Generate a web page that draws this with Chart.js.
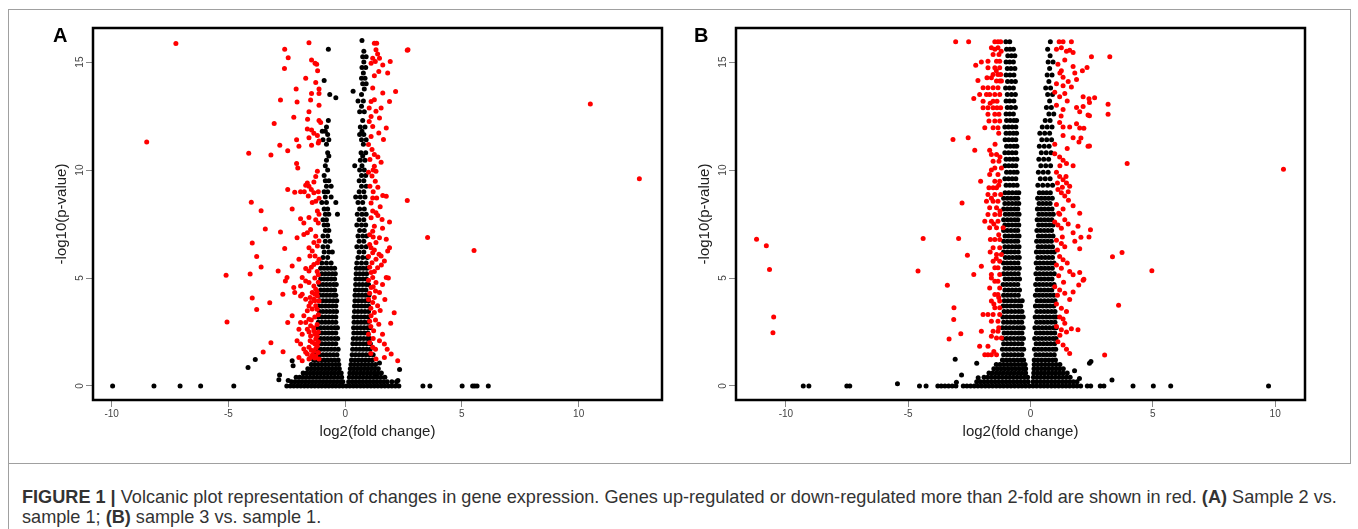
<!DOCTYPE html>
<html>
<head>
<meta charset="utf-8">
<script src="https://cdn.jsdelivr.net/npm/chart.js@4.4.1/dist/chart.umd.min.js"></script>
<style>
body{margin:0;background:#fff;width:1358px;height:529px;overflow:hidden;position:relative;font-family:"Liberation Sans",Arial,sans-serif}
#frame{position:absolute;left:8px;top:9px;width:1341px;height:453px;border:1px solid #a0a0a0}
#capline{position:absolute;left:8px;top:463px;width:1px;height:66px;background:#a0a0a0}
.wrap{position:absolute;top:0;width:680px;height:470px}
.letter{position:absolute;top:25px;font-weight:bold;font-size:20px;line-height:20px;color:#000}
.cap{position:absolute;left:22px;white-space:nowrap;font-size:15px;line-height:18px;color:#333;display:inline-block}
</style>
</head>
<body>
<div id="frame"></div>
<div id="capline"></div>
<div class="wrap" style="left:0"><canvas id="chartA" width="680" height="470"></canvas></div>
<div class="wrap" style="left:643px"><canvas id="chartB" width="680" height="470"></canvas></div>
<div class="letter" style="left:53px">A</div>
<div class="letter" style="left:694px">B</div>
<div class="cap" id="cap1" style="top:488px"><b>FIGURE 1 |</b> Volcanic plot representation of changes in gene expression. Genes up-regulated or down-regulated more than 2-fold are shown in red. <b>(A)</b> Sample 2 vs.</div>
<div class="cap" id="cap2" style="top:508px">sample 1; <b>(B)</b> sample 3 vs. sample 1.</div>
<script>
/* ---------- DATA ---------- */
const xTicks = [-10, -5, 0, 5, 10];
const yTicks = [0, 5, 10, 15];

// panel A: red = more than 2-fold, [log2FC, -log10 p]
const redA = [
[-7.25,15.86],[-8.5,11.3],[10.5,13.06],[12.6,9.6],[5.52,6.27],[3.53,6.88],[2.66,8.59],[2.66,15.55],[2.1,3.39],
[-5.1,5.13],[-5.06,2.96],[-4.13,10.78],[-4.02,8.51],[-3.6,8.11],[-3.42,7.27],[-3.98,6.62],[-3.79,6.0],[-3.6,5.51],
[-4.07,5.19],[-3.98,4.08],[-3.79,3.54],[-3.23,3.85],[-3.18,2.0],[-3.51,1.57],[-3.04,12.16],[-3.18,10.7],
[-1.55,15.9],[-2.59,15.6],[-2.44,15.2],[-2.6,14.7],[-1.44,15.1],[-1.29,14.95],[-1.22,14.9],[-1.18,14.6],[-1.69,14.25],
[-1.26,14.05],[-1.12,13.75],[-1.12,13.55],[-2.1,13.75],[-1.44,13.55],[-2.77,13.25],[-2.06,13.15],[-1.48,13.25],[-1.12,13.0],
[-1.55,12.7],[-2.2,12.45],[-1.61,12.35],[-1.12,12.3],[-1.05,12.2],[-1.62,11.9],[-1.44,11.85],[-1.34,11.7],[-1.19,11.6],
[-1.55,11.5],[-1.44,11.15],[-1.15,11.25],[-1.12,11.35],[-2.08,11.4],[-2.8,11.15],[-1.98,11.1],[-2.46,10.9],[-2.08,10.3],
[-2.03,10.1],[-1.26,9.7],[-1.19,9.95],[-1.34,9.45],[-1.62,9.4],[-1.55,9.25],[-1.69,9.3],[-1.45,9.1],[-1.34,8.95],[-1.75,9.0],
[-2.46,9.1],[-2.16,8.97],[-1.91,9.0],[-1.15,9.0],[-1.58,8.8],[-1.41,8.5],[-1.26,8.55],[-1.12,8.7],[-2.27,8.2],[-1.19,8.1],
[-1.12,7.95],[-1.26,7.7],[-1.15,7.55],[-1.91,7.75],[-1.77,7.55],[-1.55,7.8],[-2.77,7.13],[-1.48,7.25],[-1.62,7.1],[-1.77,7.02],
[-2.06,6.87],[-1.26,6.94],[-1.34,6.64],[-1.12,6.71],[-1.19,6.48],[-1.55,6.4],[-1.41,6.25],[-1.51,6.02],[-2.59,6.37],[-1.29,6.02],
[-1.12,5.87],[-1.19,5.71],[-1.34,5.63],[-1.98,5.87],[-2.27,5.56],[-1.69,5.44],[-1.55,5.33],[-2.87,5.33],[-2.49,5.02],[-2.56,4.86],
[-1.84,5.02],[-1.69,4.86],[-1.55,4.79],[-1.91,4.63],[-2.2,4.56],[-2.16,4.33],[-1.34,4.63],[-1.26,4.48],[-1.41,4.33],[-1.19,4.17],
[-1.34,4.02],[-1.48,3.87],[-1.26,3.71],[-1.41,3.56],[-1.12,3.94],[-2.67,4.25],[-1.84,4.25],[-1.91,4.17],[-1.69,4.02],
[-1.62,3.48],[-1.77,3.25],[-1.55,3.09],[-1.69,2.94],[-1.48,2.79],[-1.62,2.63],[-1.34,2.56],[-1.48,2.32],[-1.26,2.17],[-1.41,2.02],
[-1.19,1.86],[-1.55,1.79],[-1.34,1.63],[-1.69,1.56],[-2.27,3.25],[-2.46,2.94],[-1.91,2.94],[-1.98,2.63],[-1.84,2.4],[-2.06,2.1],
[-1.91,1.94],[-2.66,1.58],[-1.77,1.71],[-1.62,1.48],[-1.48,1.32],[-1.26,1.4],[-1.12,1.25],[-1.98,1.32],[-1.84,1.17],
[-1.15,3.3],[-1.3,3.2],[-1.45,3.05],[-1.2,2.85],[-1.35,2.7],[-1.15,2.5],[-1.3,2.4],[-1.55,2.5],[-1.2,2.3],[-1.15,2.05],[-1.3,1.95],
[-1.5,2.1],[-1.25,1.75],[-1.45,1.65],[-1.15,1.55],[-1.4,1.45],[-1.3,1.3],[-1.55,1.25],[-1.2,3.55],[-1.55,3.7],[-1.3,3.95],[-1.2,4.35],
[-1.5,4.1],[-1.15,4.8],[-1.3,5.0],[-1.2,5.3],[-1.45,5.5],[-1.15,5.15],[-1.3,4.25],
[1.25,15.87],[1.35,15.87],[2.69,15.57],[1.32,15.57],[1.39,15.38],[1.18,15.18],[1.29,15.03],[1.11,14.95],[1.47,15.18],[1.61,14.87],
[1.93,15.03],[1.44,14.56],[1.25,14.37],[1.82,14.49],[1.18,13.8],[1.61,13.57],[2.16,13.64],[1.9,13.18],[1.11,13.18],[1.25,13.26],
[1.03,12.87],[1.32,12.72],[1.54,12.87],[1.47,12.41],[1.11,12.48],[1.03,12.25],[1.18,12.02],[1.76,11.95],[1.44,11.72],[1.64,11.41],
[1.11,11.56],[1.0,11.18],[1.15,10.95],[1.25,10.72],[1.06,10.49],[1.54,10.36],[1.25,10.18],[1.32,9.95],[1.15,9.72],[1.29,9.48],
[1.06,9.25],[1.18,8.71],[1.35,8.71],[1.61,8.82],[1.76,8.79],[1.11,8.48],[1.18,8.1],[1.32,8.02],[1.11,7.79],[1.58,7.71],[1.25,7.4],
[1.18,7.17],[1.47,6.87],[1.76,6.79],[1.32,6.64],[1.11,6.4],[1.18,6.17],[1.82,6.25],[1.54,6.02],[1.32,5.87],[1.68,5.79],[1.15,5.71],
[1.39,5.48],[1.11,5.25],[1.18,5.02],[1.76,5.02],[1.32,4.79],[1.11,4.56],[1.47,4.33],[1.25,4.1],[1.18,3.87],[1.39,3.71],[1.11,3.25],
[1.44,2.86],[1.22,2.56],[1.47,2.09],[1.68,1.94],[1.18,1.79],[1.97,1.48],[1.68,1.32],[2.25,1.17],[1.32,1.25],
[1.05,7.0],[1.2,6.9],[1.05,6.55],[1.25,6.3],[1.0,6.0],[1.05,5.5],[1.25,5.3],[1.0,4.9],[1.2,4.6],[1.05,4.3],[1.3,4.4],[1.0,4.0],
[1.1,3.6],[1.25,3.4],[1.05,3.0],[1.3,3.05],[1.1,2.75],[1.0,2.4],[1.2,2.2],[1.05,2.0],[1.3,1.7],[1.1,1.5],[1.5,3.5],[1.6,4.7],
[1.55,5.6],[1.45,6.1],[1.6,7.3],[1.4,7.9],[1.5,8.3],[1.9,7.6],[1.9,6.4],[1.85,5.0],[1.7,4.0],[1.95,2.9],[1.6,2.4],[1.8,1.7],
[1.2,10.0],[1.4,10.6],[1.0,9.9],[1.4,9.2],[1.2,9.0]
];

// panel A: black = below the 2-fold cut, rows of [-log10 p, log2FC, log2FC, ...]
const blackRowsA = [
[0,-9.96,-8.19,-7.07,-6.19,-4.77,-2.5,-2.35,-2.2,-2.05,-1.9,-1.75,-1.6,-1.45,-1.3,-1.15,-1.0,-0.85,-0.7,-0.55,-0.4,-0.25,-0.1,0.05,0.2,0.35,0.5,0.65,0.8,0.95,1.1,1.25,1.4,1.55,1.7,1.85,2.0,2.15,2.3,3.33,3.63,5.01,5.46,5.55,5.65,6.13],
[0.2,-2.3,-2.15,-2.0,-1.85,-1.7,-1.55,-1.4,-1.25,-1.1,-0.95,-0.8,-0.65,-0.5,-0.35,-0.2,-0.1,0.15,0.3,0.45,0.6,0.75,0.9,1.05,1.2,1.35,1.5,1.65,1.8,2.0,2.2],
[0.4,-2.1,-1.95,-1.8,-1.65,-1.5,-1.35,-1.2,-1.05,-0.9,-0.75,-0.6,-0.45,-0.3,-0.15,0.18,0.33,0.48,0.63,0.78,0.93,1.08,1.23,1.38,1.53,1.7],
[0.6,-1.8,-1.65,-1.5,-1.35,-1.2,-1.05,-0.9,-0.75,-0.6,-0.45,-0.3,-0.17,0.2,0.35,0.5,0.65,0.8,0.95,1.1,1.25,1.4,1.55],
[0.8,-1.6,-1.45,-1.3,-1.15,-1.0,-0.85,-0.7,-0.55,-0.4,-0.25,0.22,0.37,0.52,0.67,0.82,0.97,1.12,1.27,1.42],
[1.0,-1.45,-1.3,-1.15,-1.0,-0.85,-0.7,-0.55,-0.4,-0.27,0.25,0.4,0.55,0.7,0.85,1.0,1.15,1.3],
[1.2,-1.35,-1.2,-1.05,-0.9,-0.75,-0.6,-0.45,-0.3,0.27,0.42,0.57,0.72,0.87,1.02,1.17],
[1.45,-1.25,-1.1,-0.95,-0.8,-0.65,-0.5,-0.35,0.3,0.45,0.6,0.75,0.9,1.05,1.2],
[1.7,-1.2,-1.05,-0.9,-0.75,-0.6,-0.45,-0.3,0.32,0.47,0.62,0.77,0.92,1.07],
[1.95,-1.15,-1.0,-0.85,-0.7,-0.55,-0.4,0.33,0.48,0.63,0.78,0.93,1.08],
[2.2,-1.2,-1.05,-0.9,-0.75,-0.6,-0.45,-0.32,0.35,0.5,0.65,0.8,0.95,1.05],
[2.45,-1.15,-1.0,-0.85,-0.7,-0.55,-0.4,0.37,0.52,0.67,0.82,0.97],
[2.7,-1.2,-1.05,-0.9,-0.75,-0.6,-0.45,-0.33,0.36,0.51,0.66,0.81,0.96,1.06],
[2.95,-1.15,-1.0,-0.85,-0.7,-0.55,-0.4,0.38,0.53,0.68,0.83,0.98],
[3.2,-1.15,-1.0,-0.85,-0.7,-0.55,-0.4,0.38,0.53,0.68,0.83,0.98],
[3.45,-1.1,-0.95,-0.8,-0.65,-0.5,-0.37,0.4,0.55,0.7,0.85,1.0],
[3.7,-1.15,-1.0,-0.85,-0.7,-0.55,-0.4,0.4,0.55,0.7,0.85,1.0],
[3.95,-1.1,-0.95,-0.8,-0.65,-0.5,-0.36,0.42,0.57,0.72,0.87,1.0],
[4.2,-1.1,-0.95,-0.8,-0.65,-0.5,-0.4,0.42,0.57,0.72,0.87,1.02],
[4.45,-1.05,-0.9,-0.75,-0.6,-0.45,0.44,0.59,0.74,0.89],
[4.7,-1.1,-0.95,-0.8,-0.65,-0.5,-0.38,0.45,0.6,0.75,0.9,1.0],
[4.95,-1.05,-0.9,-0.75,-0.6,-0.45,0.46,0.61,0.76,0.91],
[5.2,-1.0,-0.85,-0.7,-0.55,-0.42,0.47,0.62,0.77,0.92],
[5.45,-1.05,-0.9,-0.75,-0.6,-0.45,0.48,0.63,0.78,0.93],
[5.7,-1.0,-0.8,-0.6,0.5,0.7,0.9],
[5.95,-0.95,-0.75,0.55,0.75,0.95],
[6.2,-0.9,-0.7,-0.55,0.6,0.8],
[6.45,-0.95,-0.75,0.5,0.7,0.9],
[6.7,-0.85,-0.65,0.6,0.8],
[6.95,-0.95,-0.75,0.55,0.75,0.92],
[7.2,-0.85,-0.7,0.62,0.82],
[7.45,-0.9,-0.75,0.5,0.7,0.88],
[7.7,-0.95,-0.8,0.6,0.8],
[7.95,-0.85,-0.7,-0.33,0.52,0.72,0.9],
[8.2,-0.9,-0.75,0.62,0.82],
[8.5,-1.0,-0.8,-0.4,0.55,0.75],
[8.75,-0.85,-0.6,0.45,0.65,0.85],
[9.0,-0.9,-0.75,0.6,0.8],
[9.25,-0.8,-0.6,0.7,0.9],
[9.5,-0.85,-0.7,0.6,0.8],
[9.75,-0.9,0.7,0.88],
[10.0,-0.75,0.62,0.82],
[10.2,-0.85,0.41,0.72],
[10.45,-0.8,0.65,0.85],
[10.65,-0.7,0.75],
[10.8,-0.75,0.68,0.88],
[11.2,-0.8,0.78],
[11.4,-0.95,-0.7,0.7,0.9],
[11.65,-0.75,0.62,0.8],
[11.8,-0.98,-0.85,0.72],
[12.0,-0.8,0.65,0.85],
[12.3,-0.72,0.75],
[12.7,0.62,0.82],
[12.95,0.7],
[13.2,0.55,0.78],
[13.35,-0.4],
[13.5,-0.66,0.7],
[13.65,0.34],
[13.75,0.82],
[14.0,0.75,0.9],
[14.15,-0.9],
[14.25,0.7,0.85],
[14.5,0.78],
[14.75,0.72,0.88],
[15.0,0.8],
[15.25,0.75,0.9],
[15.5,0.8],
[15.6,-0.72],
[16.0,0.72]
];
const blackA = [
[-4.16,0.85],[-3.85,1.23],[-2.81,0.51],[-2.84,0.29],[-2.44,0.25],[-2.27,1.17],[-2.23,0.94],
[2.33,0.76],[2.26,0.25],[1.47,1.06],[1.33,0.52]
];

// panel B
const redB = [
[-11.2,6.8],[-10.8,6.49],[-10.67,5.4],[-10.5,3.2],[-10.53,2.47],[10.34,10.04],[4.96,5.34],[3.95,10.3],
[3.74,6.18],[3.35,5.99],[3.6,3.74],[3.03,1.44],[3.24,15.25],[3.17,13.05],[3.17,12.58],[2.49,15.25],
[2.41,13.13],[2.41,12.51],[2.41,11.12],[2.15,12.94],[2.45,7.23],[2.18,11.94],[2.06,11.48],[2.18,4.94],[1.97,4.68],[2.06,6.89],
[-3.06,15.94],[-2.53,15.94],[-1.46,15.94],[-1.33,15.94],[-1.22,15.94],[-1.6,15.66],[-1.33,15.66],[-1.46,15.6],
[-1.53,15.35],[-1.29,15.35],[-2.01,15.0],[-2.24,14.86],[-1.74,15.04],[-1.39,15.04],[-1.26,15.04],
[-1.74,14.74],[-1.46,14.74],[-1.26,14.74],[-1.53,14.43],[-1.33,14.43],[-1.22,14.43],[-2.15,14.15],[-1.78,14.28],[-1.6,14.28],
[-1.39,14.12],[-1.26,14.12],[-1.19,14.12],[-1.94,13.81],[-1.74,13.81],[-1.53,13.81],[-1.33,13.81],
[-2.08,13.5],[-1.8,13.5],[-1.67,13.5],[-1.46,13.5],[-1.26,13.5],[-2.32,13.31],[-1.94,13.19],[-1.53,13.19],[-1.37,13.19],
[-1.94,12.89],[-1.74,12.89],[-1.53,12.89],[-1.37,12.89],[-1.22,12.89],[-1.74,12.58],[-1.46,12.58],[-1.29,12.58],
[-1.7,12.27],[-1.46,12.27],[-1.26,12.27],[-1.87,11.96],[-1.53,11.96],[-1.33,11.96],[-2.55,11.5],[-3.17,11.42],
[-2.28,10.92],[-1.67,10.92],[-1.6,10.72],[-1.39,10.72],[-1.53,10.41],[-1.29,10.41],[-1.46,10.1],[-1.19,10.1],
[-1.67,9.79],[-1.33,9.79],[-2.04,9.48],[-1.46,9.48],[-1.26,9.48],[-1.7,9.18],[-1.39,9.18],[-1.53,9.18],
[-1.74,8.87],[-1.46,8.87],[-1.22,8.87],[-1.8,8.56],[-1.53,8.56],[-1.33,8.56],[-2.8,8.48],[-1.67,8.25],[-1.39,8.25],
[-1.74,7.94],[-1.46,7.94],[-1.26,7.94],[-1.87,7.63],[-1.6,7.63],[-1.33,7.63],[-1.67,7.33],[-1.39,7.33],[-1.12,7.33],
[-4.39,6.83],[-2.94,6.83],[-1.64,6.78],[-1.46,6.78],[-1.26,6.78],[-1.53,6.4],[-1.26,6.4],[-2.58,6.06],[-1.39,6.09],[-1.19,6.09],
[-1.53,5.78],[-1.26,5.78],[-2.01,5.55],[-1.46,5.47],[-1.33,5.47],[-4.6,5.32],[-2.32,5.16],[-1.6,5.16],[-1.26,5.16],
[-1.46,4.85],[-1.33,4.85],[-3.4,4.66],[-1.67,4.54],[-1.26,4.54],[-1.46,4.24],[-1.33,4.24],[-1.6,3.93],[-1.26,3.93],
[-3.13,3.62],[-1.46,3.62],[-1.26,3.62],[-1.94,3.31],[-1.74,3.31],[-1.53,3.31],[-1.26,3.31],[-3.14,3.08],[-1.6,3.0],[-1.33,3.0],
[-2.01,2.53],[-1.53,2.53],[-1.33,2.53],[-2.85,2.42],[-3.33,2.17],[-1.39,2.22],[-1.19,2.22],[-2.08,1.84],[-1.74,1.84],
[-1.87,1.45],[-1.74,1.45],[-1.6,1.45],[-1.39,1.45],
[-1.2,15.5],[-1.4,14.6],[-1.65,13.1],[-1.3,11.7],[-1.45,11.2],[-1.25,10.6],[-1.6,10.0],[-1.3,9.3],[-1.6,8.7],[-1.25,8.1],
[-1.5,7.5],[-1.3,7.0],[-1.65,6.2],[-1.4,5.9],[-1.6,5.0],[-1.3,4.1],[-1.5,3.8],[-1.3,2.7],[-1.6,2.3],[-1.5,1.6],
[1.17,15.94],[1.33,15.94],[1.67,15.94],[1.26,15.66],[1.47,15.5],[1.6,15.55],[1.74,15.45],[1.06,15.6],
[1.12,14.9],[1.26,14.6],[1.33,14.3],[1.74,14.8],[1.81,14.5],[2.12,14.6],[2.31,14.75],[1.88,14.2],
[1.06,14.0],[1.33,13.9],[1.54,14.1],[1.67,13.85],[0.99,13.6],[1.19,13.4],[1.4,13.55],[2.15,13.4],[2.39,13.3],[2.62,13.35],
[1.06,13.0],[1.33,12.8],[1.88,12.9],[2.01,12.7],[2.35,12.55],[1.19,12.2],[1.88,12.15],[2.01,11.95],[1.33,12.0],
[1.33,11.6],[1.74,11.5],[1.98,11.3],[2.35,11.1],[0.99,11.2],[0.99,10.75],[1.19,10.6],[1.33,10.45],[1.47,10.3],[1.74,10.2],
[1.06,9.9],[1.19,9.7],[1.33,9.55],[1.47,9.4],[1.6,9.25],[1.12,9.1],[1.26,8.95],[1.4,8.8],[1.54,9.0],
[1.06,8.4],[1.33,8.2],[1.74,8.35],[2.01,8.0],[1.19,7.95],[0.99,7.6],[1.12,7.45],[1.26,7.3],[1.54,7.5],[1.74,7.1],[1.94,7.4],[2.39,6.9],
[1.06,6.75],[1.26,6.6],[1.4,6.45],[1.81,6.7],[2.01,6.35],[1.19,6.0],[1.33,5.85],
[1.06,5.6],[1.26,5.45],[1.6,5.3],[1.74,5.15],[2.15,4.9],[2.01,5.25],[0.99,4.6],[1.19,4.45],[1.4,4.3],[1.74,4.35],
[1.06,3.8],[1.26,3.6],[1.47,3.45],[1.19,3.2],[1.33,3.1],[1.06,2.75],[1.26,2.6],[1.47,2.5],[1.67,2.65],[1.94,2.6],
[1.12,2.05],[1.33,1.9],[1.47,1.7],[1.6,1.5],
[1.1,9.4],[1.3,9.2],[1.45,9.7],[1.2,10.2],[1.55,8.6],[1.15,8.0],[1.4,7.7],[1.3,6.9],[1.1,6.3],[1.5,5.7],[1.15,5.1],
[1.35,4.8],[1.6,4.0],[1.1,4.2],[1.4,2.9],[1.2,2.35],[1.25,12.5],[1.5,13.2],[1.2,14.5],[1.4,15.1],[1.6,12.0],[1.5,11.0]
];

const blackRowsB = [
[0,-9.29,-9.06,-7.51,-7.39,-4.54,-4.27,-3.79,-3.65,-3.5,-3.35,-3.2,-3.05,-2.75,-2.6,-2.45,-2.3,-2.15,-2.0,-1.85,-1.7,-1.55,-1.4,-1.25,-1.1,-0.95,-0.8,-0.65,-0.5,-0.35,-0.2,-0.05,0.1,0.25,0.4,0.55,0.7,0.85,1.0,1.15,1.3,1.45,1.6,1.75,1.9,2.05,2.32,2.46,2.85,3.0,4.19,5.02,5.73,9.73],
[0.2,-2.2,-2.05,-1.9,-1.75,-1.6,-1.45,-1.3,-1.15,-1.0,-0.85,-0.7,-0.55,-0.4,-0.25,-0.1,0.1,0.25,0.4,0.55,0.7,0.85,1.0,1.15,1.3,1.45,1.6,1.75,1.9],
[0.4,-1.9,-1.75,-1.6,-1.45,-1.3,-1.15,-1.0,-0.85,-0.7,-0.55,-0.4,-0.25,-0.12,0.12,0.27,0.42,0.57,0.72,0.87,1.02,1.17,1.32,1.47,1.62],
[0.6,-1.7,-1.55,-1.4,-1.25,-1.1,-0.95,-0.8,-0.65,-0.5,-0.35,-0.2,0.13,0.28,0.43,0.58,0.73,0.88,1.03,1.18,1.33,1.5],
[0.8,-1.5,-1.35,-1.2,-1.05,-0.9,-0.75,-0.6,-0.45,-0.3,-0.2,0.14,0.29,0.44,0.59,0.74,0.89,1.04,1.19,1.34],
[1.0,-1.4,-1.25,-1.1,-0.95,-0.8,-0.65,-0.5,-0.35,-0.22,0.15,0.3,0.45,0.6,0.75,0.9,1.05,1.2],
[1.2,-1.15,-1.0,-0.85,-0.7,-0.55,-0.4,-0.28,0.15,0.3,0.45,0.6,0.75,0.9,1.02],
[1.45,-1.1,-0.95,-0.8,-0.65,-0.5,-0.35,0.22,0.37,0.52,0.67,0.82,0.97],
[1.7,-1.15,-1.0,-0.85,-0.7,-0.55,-0.4,-0.28,0.16,0.31,0.46,0.61,0.76,0.91,1.03],
[1.95,-1.1,-0.95,-0.8,-0.65,-0.5,-0.35,0.23,0.38,0.53,0.68,0.83,0.98],
[2.2,-1.13,-0.98,-0.83,-0.68,-0.53,-0.4,-0.29,0.17,0.32,0.47,0.62,0.77,0.92,1.04],
[2.45,-1.08,-0.93,-0.78,-0.63,-0.48,-0.35,0.24,0.39,0.54,0.69,0.84,0.99],
[2.7,-1.15,-1.0,-0.85,-0.7,-0.55,-0.42,-0.3,0.18,0.33,0.48,0.63,0.78,0.93,1.05],
[2.95,-1.1,-0.95,-0.8,-0.65,-0.5,-0.36,0.25,0.4,0.55,0.7,0.85,1.0],
[3.2,-1.13,-0.98,-0.83,-0.68,-0.53,-0.4,-0.3,0.19,0.34,0.49,0.64,0.79,0.94,1.04],
[3.45,-1.08,-0.93,-0.78,-0.63,-0.48,-0.35,0.26,0.41,0.56,0.71,0.86,1.0],
[3.7,-1.12,-0.97,-0.82,-0.67,-0.52,-0.4,0.2,0.35,0.5,0.65,0.8,0.95],
[3.95,-1.07,-0.92,-0.77,-0.62,-0.47,-0.34,0.27,0.42,0.57,0.72,0.87,1.0],
[4.2,-1.1,-0.95,-0.8,-0.65,-0.5,0.2,0.35,0.5,0.65,0.8,0.95],
[4.45,-1.05,-0.9,-0.75,-0.6,-0.45,0.27,0.42,0.57,0.72,0.87],
[4.7,-1.12,-0.97,-0.82,-0.67,-0.52,0.21,0.36,0.51,0.66,0.81,0.96],
[4.95,-1.04,-0.89,-0.74,-0.59,-0.45,0.28,0.43,0.58,0.73,0.88],
[5.2,-1.1,-0.95,-0.8,-0.65,-0.5,0.22,0.37,0.52,0.67,0.82,0.97],
[5.45,-1.05,-0.9,-0.75,-0.6,-0.46,0.29,0.44,0.59,0.74,0.89],
[5.7,-1.11,-0.96,-0.81,-0.66,-0.51,0.23,0.38,0.53,0.68,0.83,0.96],
[5.95,-1.03,-0.88,-0.73,-0.58,-0.46,0.3,0.45,0.6,0.75,0.9],
[6.2,-1.1,-0.95,-0.8,-0.65,-0.5,0.24,0.39,0.54,0.69,0.84,0.97],
[6.45,-1.05,-0.9,-0.75,-0.6,-0.47,0.31,0.46,0.61,0.76,0.9],
[6.7,-1.1,-0.95,-0.8,-0.65,-0.52,0.25,0.4,0.55,0.7,0.85],
[6.95,-1.04,-0.89,-0.74,-0.59,-0.47,0.32,0.47,0.62,0.77,0.92],
[7.2,-1.1,-0.95,-0.8,-0.65,-0.52,0.26,0.41,0.56,0.71,0.86],
[7.45,-1.05,-0.9,-0.75,-0.6,-0.48,0.33,0.48,0.63,0.78,0.92],
[7.7,-1.1,-0.95,-0.8,-0.65,-0.52,0.27,0.42,0.57,0.72,0.87],
[7.95,-1.03,-0.88,-0.73,-0.58,-0.47,0.34,0.49,0.64,0.79,0.93],
[8.2,-1.1,-0.95,-0.8,-0.65,-0.52,0.28,0.43,0.58,0.73,0.88],
[8.45,-1.05,-0.9,-0.75,-0.6,-0.48,0.35,0.5,0.65,0.8],
[8.7,-1.1,-0.95,-0.8,-0.65,-0.52,0.29,0.44,0.59,0.74,0.89],
[8.95,-1.04,-0.89,-0.74,-0.59,-0.48,0.36,0.51,0.66,0.81],
[9.3,-1.0,-0.85,-0.7,-0.55,0.3,0.5,0.7,0.9],
[9.6,-1.05,-0.9,-0.75,-0.6,0.4,0.6,0.8],
[9.9,-0.98,-0.83,-0.68,-0.55,0.32,0.52,0.72],
[10.2,-1.04,-0.89,-0.74,-0.6,0.42,0.62,0.82],
[10.5,-1.0,-0.85,-0.7,-0.56,0.34,0.54,0.74],
[10.8,-1.05,-0.9,-0.75,-0.6,0.44,0.64,0.84],
[11.1,-0.98,-0.83,-0.68,-0.56,0.36,0.56,0.76],
[11.4,-1.04,-0.89,-0.74,-0.6,0.46,0.66,0.86],
[11.7,-1.0,-0.85,-0.7,-0.57,0.38,0.58,0.78],
[12.0,-1.05,-0.9,-0.75,-0.6,0.48,0.68,0.88],
[12.3,-0.98,-0.83,-0.68,-0.57,0.6,0.8],
[12.6,-1.0,-0.85,-0.7,0.75,0.95],
[12.9,-0.95,-0.8,-0.62,0.65,0.85],
[13.2,-1.0,-0.85,-0.68,0.78],
[13.5,-0.95,-0.78,-0.62,0.7,0.9],
[13.8,-1.02,-0.86,-0.7,0.62,0.82],
[14.1,-0.94,-0.78,-0.62,0.75],
[14.4,-1.0,-0.84,-0.68,0.68,0.88],
[14.7,-0.95,-0.8,-0.64,0.78],
[15.0,-1.0,-0.85,-0.7,0.72,0.92],
[15.3,-0.93,-0.78,-0.64,0.8],
[15.6,-0.98,-0.84,-0.7,0.7],
[15.94,-1.01,-0.85,0.81]
];
const blackB = [
[-5.44,0.1],[-3.03,0.17],[-3.08,1.24],[-2.82,0.51],[-2.14,0.38],[-2.2,1.05],
[2.47,1.13],[2.41,1.05],[3.33,0.28],[1.8,0.7],[2.0,0.35]
];

/* ---------- BUILD ---------- */
Chart.defaults.font.family = "'Liberation Sans', Arial, sans-serif";

function pairsToPoints(pairs) {
  return pairs.map(p => ({x: p[0], y: p[1]}));
}
function rowsToPoints(rows) {
  const pts = [];
  rows.forEach(r => {
    for (let i = 1; i < r.length; i++) pts.push({x: r[i], y: r[0]});
  });
  return pts;
}

/* black frame round the plot region */
const boxPlugin = {
  id: 'box',
  afterDatasetsDraw(chart) {
    const {ctx, chartArea: a} = chart;
    ctx.save();
    ctx.strokeStyle = '#000';
    ctx.lineWidth = 2.5;
    ctx.strokeRect(a.left, a.top, a.right - a.left, a.bottom - a.top);
    ctx.restore();
  }
};

function makePanel(id, red, blackRows, black, xMin, xMax) {
  new Chart(document.getElementById(id), {
    type: 'scatter',
    data: {
      datasets: [
        {data: pairsToPoints(red), backgroundColor: '#ff0000', borderWidth: 0, pointRadius: 2.5},
        {data: rowsToPoints(blackRows).concat(pairsToPoints(black)), backgroundColor: '#000', borderWidth: 0, pointRadius: 2.5}
      ]
    },
    options: {
      responsive: false,
      animation: false,
      devicePixelRatio: 1,
      layout: {padding: {left: 0, top: 28, right: 18, bottom: 0}},
      plugins: {legend: {display: false}, tooltip: {enabled: false}},
      scales: {
        x: {
          type: 'linear', min: xMin, max: xMax,
          afterBuildTicks: s => { s.ticks = xTicks.map(v => ({value: v})); },
          afterFit: s => { s.height = 70; },
          border: {display: false},
          grid: {drawOnChartArea: false, drawTicks: true, tickLength: 7, tickColor: '#888', lineWidth: 1},
          ticks: {font: {size: 10}, color: '#444', padding: 1, maxRotation: 0, autoSkip: false},
          title: {display: true, text: 'log2(fold change)', font: {size: 15}, color: '#222', padding: {top: 0, bottom: 29}}
        },
        y: {
          type: 'linear', min: -0.65, max: 16.58,
          afterBuildTicks: s => { s.ticks = yTicks.map(v => ({value: v})); },
          afterFit: s => { s.width = 93; },
          border: {display: false},
          grid: {drawOnChartArea: false, drawTicks: true, tickLength: 7, tickColor: '#888', lineWidth: 1},
          ticks: {font: {size: 10}, color: '#444', padding: 0, minRotation: 90, maxRotation: 90, crossAlign: 'center', autoSkip: false},
          title: {display: true, text: '-log10(p-value)', font: {size: 15}, color: '#222', padding: {top: 53, bottom: 0}}
        }
      }
    },
    plugins: [boxPlugin]
  });
}

makePanel('chartA', redA, blackRowsA, blackA, -10.8, 13.57);
makePanel('chartB', redB, blackRowsB, blackB, -12.04, 11.22);

/* fit the caption's first line to the figure width */
const cap1 = document.getElementById('cap1');
const cap2 = document.getElementById('cap2');
const k = 1316 / cap1.getBoundingClientRect().width;
const fs = (15 * k).toFixed(2) + 'px';
cap1.style.fontSize = fs;
cap2.style.fontSize = fs;
</script>
</body>
</html>
